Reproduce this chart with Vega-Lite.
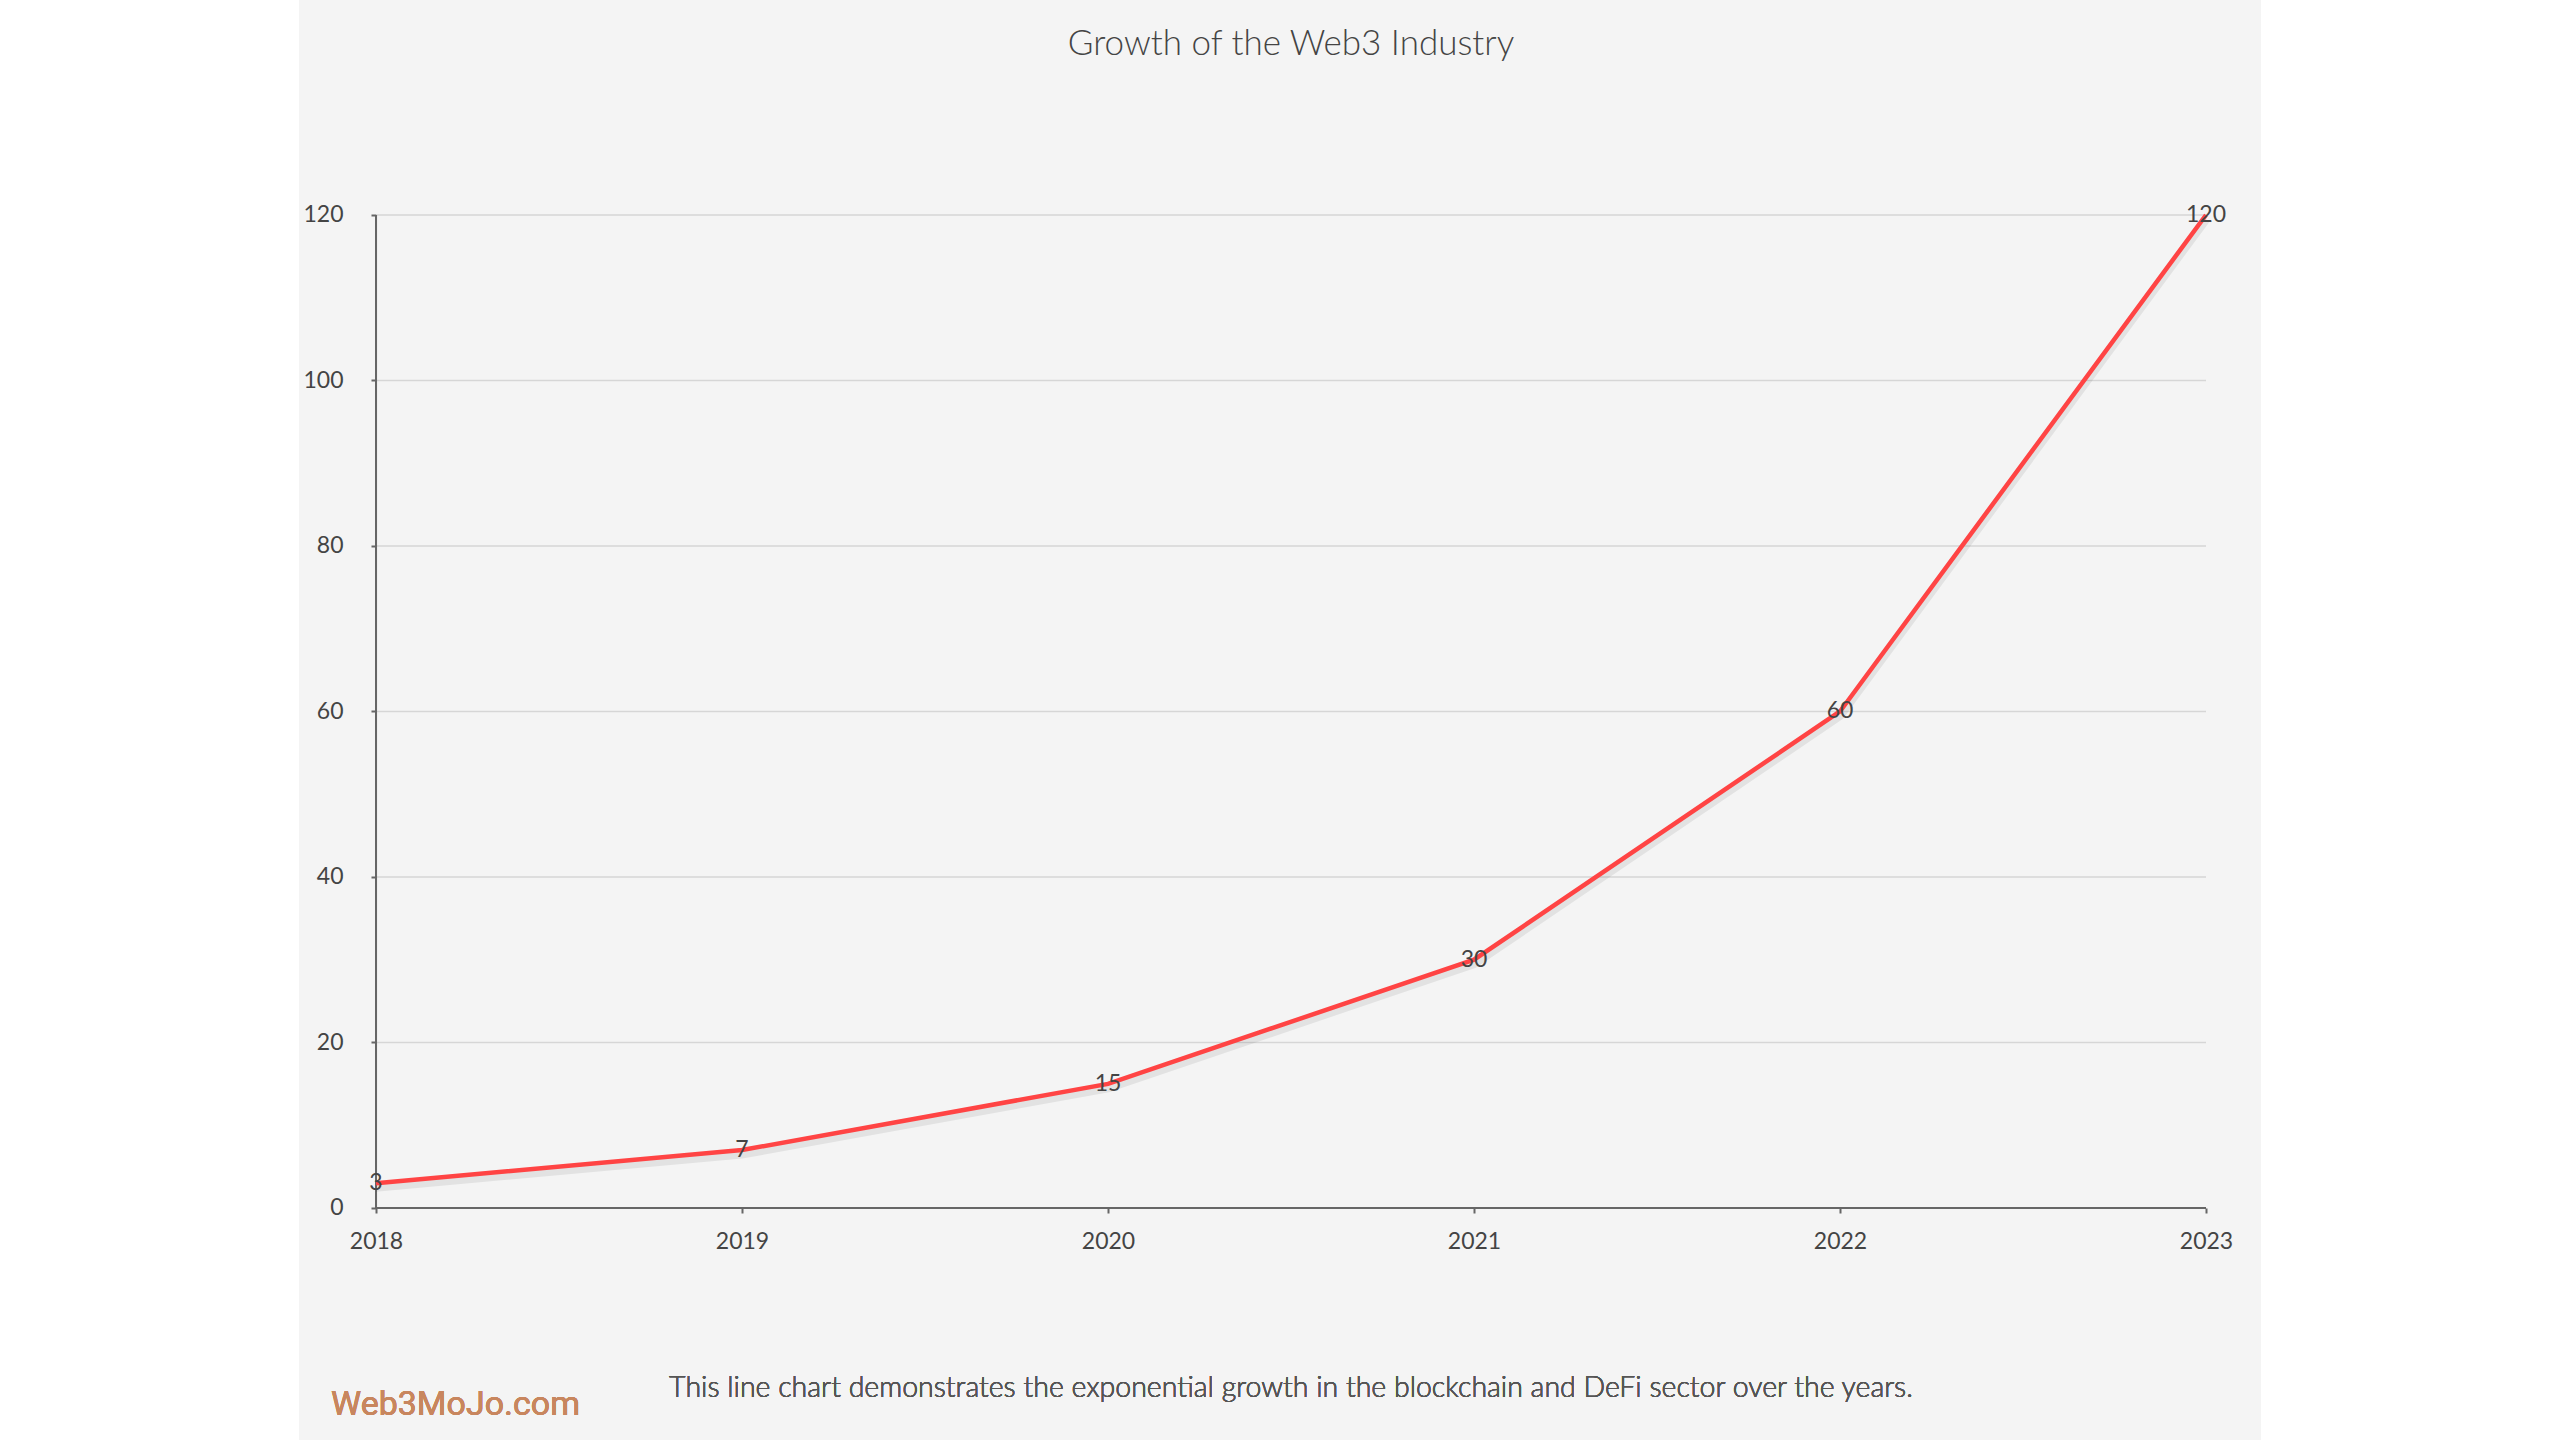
{
  "$schema": "https://vega.github.io/schema/vega-lite/v6.json",
  "autosize": "none",
  "width": 1962,
  "height": 1440,
  "padding": {"left": 299, "right": 299, "top": 0, "bottom": 0},
  "background": "#ffffff",
  "config": {
    "view": {"fill": "#f4f4f4", "stroke": null},
    "font": "Lato"
  },
  "title": {
    "text": "Growth of the Web3 Industry",
    "anchor": "middle",
    "frame": "group",
    "baseline": "alphabetic",
    "offset": 0,
    "dy": 90,
    "dx": 11,
    "font": "Lato",
    "fontSize": 35,
    "fontWeight": 300,
    "color": "#444444"
  },
  "datasets": {
    "growth": [
      {"year": 2018, "value": 3},
      {"year": 2019, "value": 7},
      {"year": 2020, "value": 15},
      {"year": 2021, "value": 30},
      {"year": 2022, "value": 60},
      {"year": 2023, "value": 120}
    ],
    "grid": [
      {"level": 20}, {"level": 40}, {"level": 60}, {"level": 80}, {"level": 100}, {"level": 120}
    ]
  },
  "layer": [
    {
      "data": {"name": "grid"},
      "mark": {"type": "rule", "color": "#d6d6d6", "strokeWidth": 1.5},
      "encoding": {
        "y": {"field": "level", "type": "quantitative"},
        "x": {"datum": 2018},
        "x2": {"datum": 2023}
      }
    },
    {
      "data": {"name": "growth"},
      "mark": {"type": "rule", "color": "#666666", "strokeWidth": 2},
      "encoding": {
        "x": {"datum": 2018},
        "y": {"datum": 0},
        "y2": {"datum": 120}
      }
    },
    {
      "data": {"name": "growth"},
      "mark": {"type": "rule", "color": "#666666", "strokeWidth": 2},
      "encoding": {
        "y": {"datum": 0},
        "x": {"datum": 2018},
        "x2": {"datum": 2023}
      }
    },
    {
      "data": {"name": "growth"},
      "mark": {"type": "line", "color": "#000000", "opacity": 0.07, "strokeWidth": 9, "yOffset": 4},
      "encoding": {
        "x": {"field": "year", "type": "quantitative"},
        "y": {"field": "value", "type": "quantitative"}
      }
    },
    {
      "data": {"name": "growth"},
      "mark": {"type": "line", "color": "#ff4444", "strokeWidth": 4.5},
      "encoding": {
        "x": {
          "field": "year",
          "type": "quantitative",
          "scale": {"domain": [2017.7896, 2023.1503], "nice": false, "zero": false},
          "axis": {
            "title": null,
            "values": [2018, 2019, 2020, 2021, 2022, 2023],
            "format": "d",
            "domain": false,
            "grid": false,
            "offset": -232,
            "tickSize": 5,
            "tickWidth": 2,
            "tickColor": "#666666",
            "labelFont": "Lato",
            "labelFontSize": 23,
            "labelColor": "#444444",
            "labelPadding": 17
          }
        },
        "y": {
          "field": "value",
          "type": "quantitative",
          "scale": {"domain": [-28.04, 145.98], "nice": false, "zero": false},
          "axis": {
            "title": null,
            "values": [0, 20, 40, 60, 80, 100, 120],
            "domain": false,
            "grid": false,
            "offset": -77,
            "tickSize": 5,
            "tickWidth": 2,
            "tickColor": "#666666",
            "labelFont": "Lato",
            "labelFontSize": 23,
            "labelColor": "#444444",
            "labelPadding": 28
          }
        }
      }
    },
    {
      "data": {"name": "growth"},
      "mark": {"type": "text", "font": "Lato", "fontSize": 23, "color": "#444444", "align": "center", "baseline": "middle"},
      "encoding": {
        "x": {"field": "year", "type": "quantitative"},
        "y": {"field": "value", "type": "quantitative"},
        "text": {"field": "value", "type": "quantitative"}
      }
    },
    {
      "data": {"name": "growth"},
      "mark": {"type": "text", "font": "Roboto", "fontSize": 34, "color": "#c8865e", "align": "left", "baseline": "alphabetic"},
      "encoding": {
        "x": {"datum": 2017.877},
        "y": {"datum": -25.02},
        "text": {"value": "Web3MoJo.com"}
      }
    },
    {
      "data": {"name": "growth"},
      "mark": {"type": "text", "font": "Lato", "fontSize": 28.5, "fontWeight": 300, "color": "#555555", "align": "center", "baseline": "alphabetic"},
      "encoding": {
        "x": {"datum": 2020.5},
        "y": {"datum": -22.84},
        "text": {"value": "This line chart demonstrates the exponential growth in the blockchain and DeFi sector over the years."}
      }
    }
  ]
}
